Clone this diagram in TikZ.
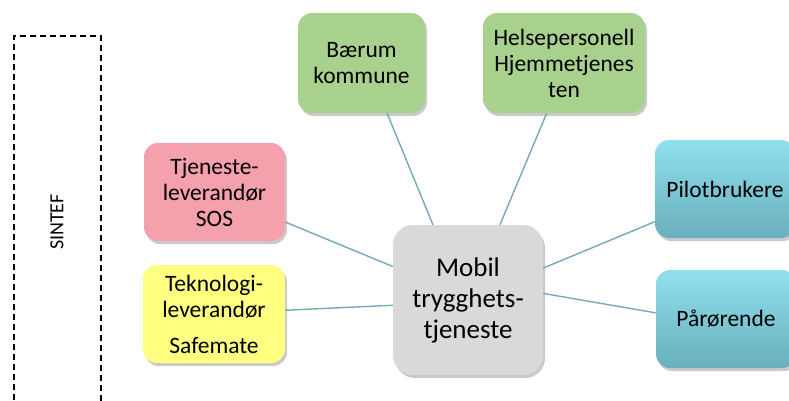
\documentclass[tikz,border=0pt]{standalone}
\usepackage{fontspec}
\setmainfont{Carlito}
\usetikzlibrary{shadows}
\definecolor{gfill}{HTML}{A9D18E}
\definecolor{pfill}{HTML}{F4A0AD}
\definecolor{yfill}{HTML}{FFFF80}
\definecolor{ctop}{HTML}{8FE0EE}
\definecolor{cbot}{HTML}{6AAFBD}
\definecolor{mfill}{HTML}{D9D9D9}
\definecolor{linkc}{HTML}{74A9B7}
\tikzset{
  box/.style={rectangle, rounded corners=14pt, align=center, inner sep=2pt,
    font=\fontsize{23.5}{26}\selectfont,
    drop shadow={shadow xshift=2pt, shadow yshift=-3pt, opacity=0.35, fill=black!60}},
  gbox/.style={box, fill=gfill},
  pbox/.style={box, fill=pfill},
  ybox/.style={box, fill=yfill},
  cbox/.style={box, top color=ctop, bottom color=cbot},
  mbox/.style={box, fill=mfill, font=\fontsize{27}{31}\selectfont, rounded corners=20pt},
  link/.style={draw=linkc, line width=1.4pt}
}
\begin{document}
\begin{tikzpicture}[x=1pt,y=-1pt]
\useasboundingbox (0,0) rectangle (789,401);
% dashed frame
\draw[line width=1.3pt, dash pattern=on 6pt off 4pt] (14,410) -- (14,36) -- (101,36) -- (101,410);
\node[rotate=90, font=\fontsize{20}{22}\selectfont] (sintef) at (57,222) {SINTEF};
% nodes
\node[gbox, minimum width=127pt, minimum height=100pt] (baerum) at (361.5,63) {Bærum\\kommune};
\node[gbox, minimum width=162pt, minimum height=100pt] (helse) at (564,63) {Helsepersonell\\Hjemmetjenes\\ten};
\node[pbox, minimum width=141pt, minimum height=98pt] (tjen) at (214.5,192) {Tjeneste-\\leverandør\\SOS};
\node[ybox, minimum width=142pt, minimum height=98pt] (tekn) at (214,314) {Teknologi-\\leverandør\\[10pt]Safemate};
\node[cbox, minimum width=140pt, minimum height=98pt] (pilot) at (725,189) {Pilotbrukere};
\node[cbox, minimum width=140pt, minimum height=98pt] (paar) at (726,319) {Pårørende};
\node[mbox, minimum width=150pt, minimum height=150pt] (mob) at (468,300) {Mobil\\trygghets-\\tjeneste};
% connectors
\draw[link] (baerum.-63) -- (mob.115);
\draw[link] (helse.-109) -- (mob.67);
\draw[link] (pilot.-155) -- (mob.23);
\draw[link] (paar.175) -- (mob.5);
\draw[link] (tjen.-23) -- (mob.156);
\draw[link] (tekn.3) -- (mob.-176);
\end{tikzpicture}
\end{document}
